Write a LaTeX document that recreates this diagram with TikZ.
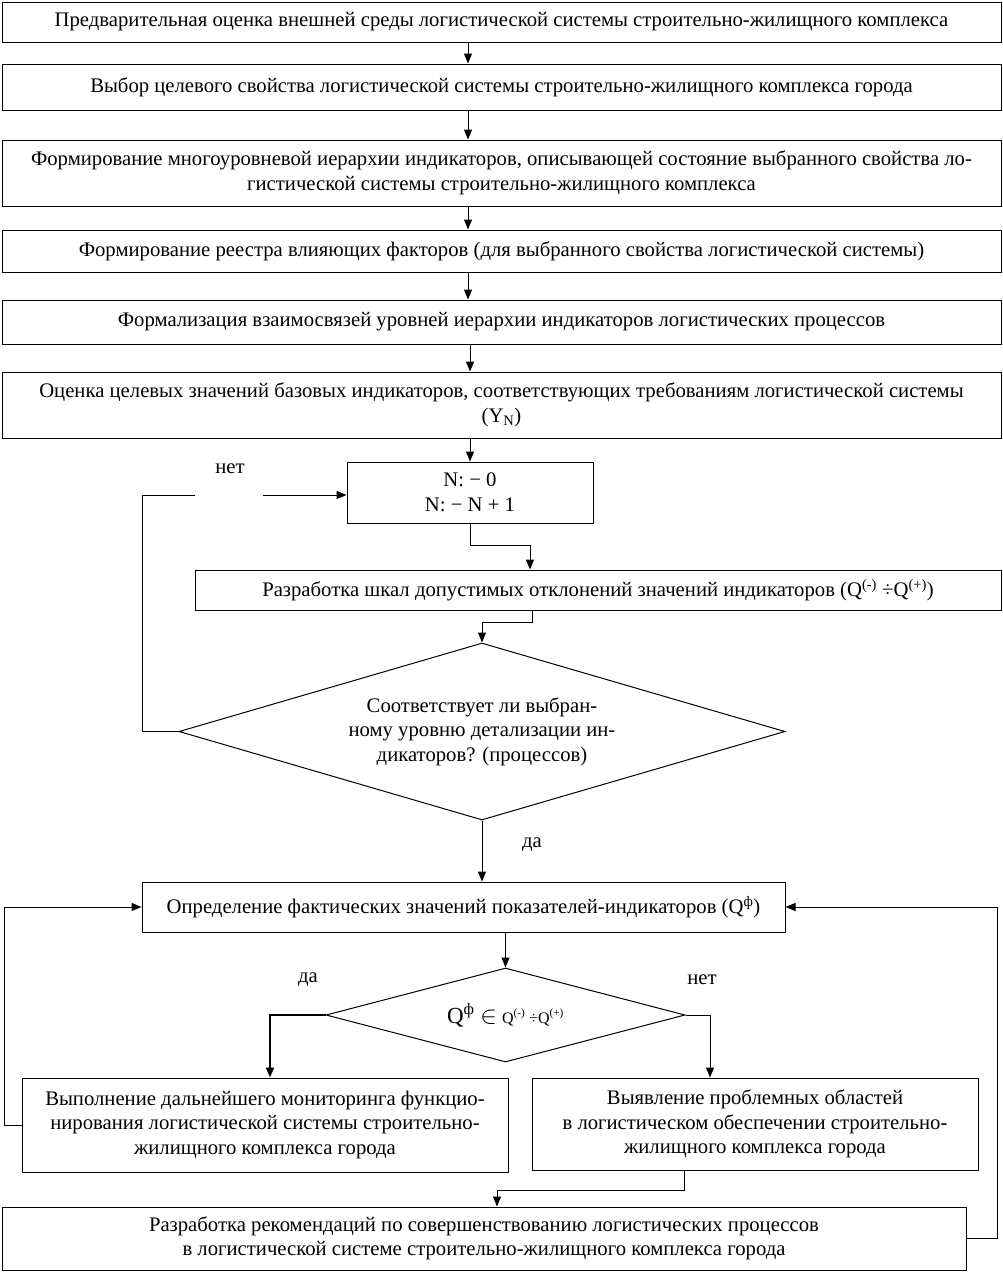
\documentclass[tikz,border=0pt]{standalone}
\usepackage{fontspec}
\setmainfont{Liberation Serif}
\usetikzlibrary{shapes.geometric,arrows.meta}
\begin{document}
\begin{tikzpicture}[x=1pt,y=-1pt,
  every node/.style={font=\fontsize{20.7}{24.5}\selectfont},
  box/.style={draw,line width=1pt,rectangle,align=center,inner sep=0pt},
  dia/.style={draw,line width=1pt,diamond,align=center,inner sep=0pt},
  arr/.style={line width=1pt,-{Triangle[length=10pt,width=8pt]}},
  ln/.style={line width=1pt},
  lbl/.style={inner sep=0pt}]
\useasboundingbox (0,0) rectangle (1003,1272);
\fill[white] (0,0) rectangle (1003,1272);
\node[box,minimum width=999,minimum height=40] (b1) at (501.5,22) {Предварительная оценка внешней среды логистической системы строительно-жилищного комплекса};
\node[box,minimum width=999,minimum height=46] (b2) at (501.5,87) {Выбор целевого свойства логистической системы строительно-жилищного комплекса города};
\node[box,minimum width=999,minimum height=66] (b3) at (501.5,173) {Формирование многоуровневой иерархии индикаторов, описывающей состояние выбранного свойства ло-\\гистической системы строительно-жилищного комплекса};
\node[box,minimum width=999,minimum height=42] (b4) at (501.5,251) {Формирование реестра влияющих факторов (для выбранного свойства логистической системы)};
\node[box,minimum width=999,minimum height=44] (b5) at (501.5,322) {Формализация взаимосвязей уровней иерархии индикаторов логистических процессов};
\node[box,minimum width=999,minimum height=66] (b6) at (501.5,405) {Оценка целевых значений базовых индикаторов, соответствующих требованиям логистической системы\\(Y\textsubscript{N})};
\node[box,minimum width=246,minimum height=61] (nb) at (470,492.5) {N: − 0\\N: − N + 1};
\node[box,minimum width=806,minimum height=40] (sc) at (598,590) {Разработка шкал допустимых отклонений значений индикаторов (Q\textsuperscript{(-)} ÷Q\textsuperscript{(+)})};
\node[dia,aspect=3.4,minimum width=606,minimum height=177] (d1) at (482,731.5) {Соответствует ли выбран-\\ному уровню детализации ин-\\дикаторов? (процессов)};
\node[box,minimum width=643,minimum height=50] (qf) at (463.5,907) {Определение фактических значений показателей-индикаторов (Q\textsuperscript{ф})};
\node[dia,aspect=3.8,minimum width=359,minimum height=94] (d2) at (505.5,1015) {{\fontsize{23}{26}\selectfont Q\textsuperscript{ф} $\in$} {\fontsize{16}{18}\selectfont Q\textsuperscript{(-)} ÷Q\textsuperscript{(+)}}};
\node[box,minimum width=486,minimum height=94] (bl) at (265,1125) {Выполнение дальнейшего мониторинга функцио-\\нирования логистической системы строительно-\\жилищного комплекса города};
\node[box,minimum width=446,minimum height=92] (br) at (755,1124) {Выявление проблемных областей\\в логистическом обеспечении строительно-\\жилищного комплекса города};
\node[box,minimum width=964,minimum height=63] (bb) at (484,1238.5) {Разработка рекомендаций по совершенствованию логистических процессов\\в логистической системе строительно-жилищного комплекса города};
% labels
\node[lbl] (l1) at (230,469) {нет};
\node[lbl] (l2) at (532,845) {да};
\node[lbl] (l3) at (308,980) {да};
\node[lbl] (l4) at (702,980) {нет};
% coordinates
\coordinate (xa) at (468,0);
\coordinate (xb) at (470,0);
\coordinate (g1) at (195,495);
\coordinate (g2) at (263,495);
% arrows
\draw[arr] (b1.south -| xa) -- (b2.north -| xa);
\draw[arr] (b2.south -| xa) -- (b3.north -| xa);
\draw[arr] (b3.south -| xa) -- (b4.north -| xa);
\draw[arr] (b4.south -| xa) -- (b5.north -| xa);
\draw[arr] (b5.south -| xb) -- (b6.north -| xb);
\draw[arr] (b6.south -| xb) -- (nb.north -| xb);
\draw[arr] (nb.south) -- ++(0,22) -| ([xshift=60pt]sc.north -| nb.south);
\draw[arr] ([xshift=-66pt]sc.south) -- ++(0,12) -| (d1.north);
\draw[arr] (d1.south) -- (qf.north -| d1.south);
\draw[ln] (d1.west) -- ++(-36,0) |- (g1);
\draw[arr] (g2) -- (nb.west |- g2);
\draw[arr] (qf.south -| d2.north) -- (d2.north);
\draw[line width=2pt,line join=miter,-{Triangle[length=10pt,width=8pt]}] (d2.west) -| (bl.north -| 270,0);
\draw[arr] (d2.east) -| (br.north -| 710,0);
\draw[arr] (bl.west) -- ++(-17,0) |- (qf.west);
\draw[arr] ([xshift=-71pt]br.south) -- ++(0,20) -| (bb.north -| 497,0);
\draw[arr] (bb.east) -- ++(31,0) |- (qf.east);
\end{tikzpicture}
\end{document}
